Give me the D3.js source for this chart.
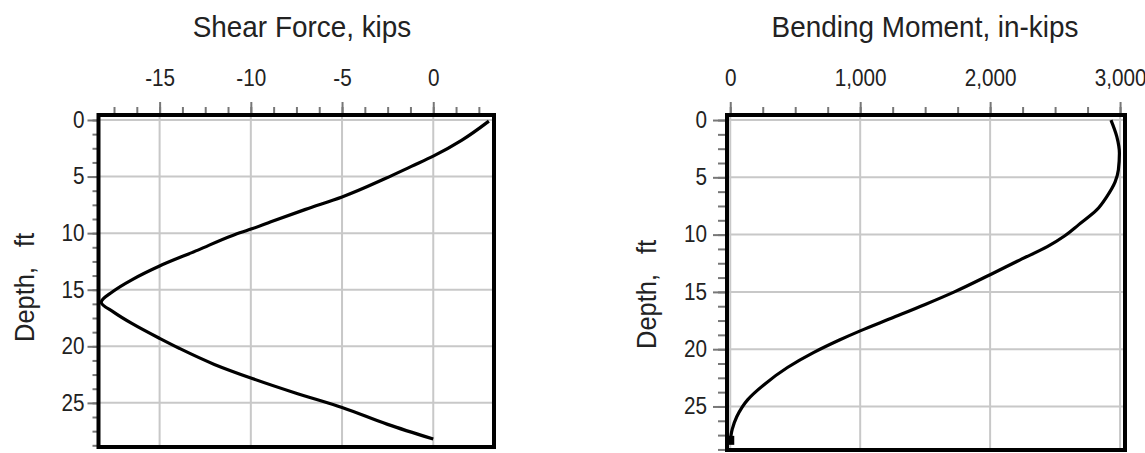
<!DOCTYPE html>
<html>
<head>
<meta charset="utf-8">
<script src="https://cdn.jsdelivr.net/npm/d3@7"></script>
<style>
  body { margin: 0; background: #fff; }
  text { font-family: "Liberation Sans Narrow", "Liberation Sans", Arial, sans-serif; fill: #222; }
</style>
</head>
<body>
<div id="viz"></div>
<script>
// shear force profile
var shearDepth = [0.1, 1.8, 3.2, 4.1, 5.15, 6.8, 7.9, 9.0, 9.6, 10.2, 11.5, 12.9, 14.1, 15.2, 16.1,
                  17.0, 18.0, 19.3, 20.2, 21.6, 22.8, 24.1, 25.4, 26.9, 28.2];
var shearKips = [3.05, 1.55, 0, -1.2, -2.6, -5, -7.0, -8.9, -9.9, -11.0, -12.9, -15, -16.5, -17.6, -18.2,
                 -17.5, -16.5, -15, -13.9, -12.0, -10, -7.6, -5, -2.5, 0];

// bending moment profile
var momentDepth = [0, 1.45, 2.9, 4.35, 5.4, 6.7, 7.85, 9.15, 10.1, 11.05, 12.2, 13.5, 15.0, 16.1,
                   17.3, 18.4, 19.2, 20.3, 21.6, 23.1, 24.4, 25.9, 27.0, 28.0];
var momentInKips = [2930, 2975, 2995, 2987, 2962, 2897, 2820, 2680, 2575, 2440, 2231, 2000, 1725, 1500,
                    1240, 1000, 840, 640, 440, 260, 135, 50, 15, 0];

// tick values
var shearTicks = [-15, -10, -5, 0];
var momentTicks = [0, 1000, 2000, 3000];
var depthTicks = [0, 5, 10, 15, 20, 25];

var svg = d3.select("#viz")
  .append("svg")
  .attr("width", 1145)
  .attr("height", 453);

// squeeze text horizontally around its own anchor point
function narrow(sel, k) {
  sel.each(function() {
    var t = d3.select(this);
    var ax = +t.attr("x") || 0;
    var old = t.attr("transform") || "";
    t.attr("transform", old + " translate(" + ax + ",0) scale(" + k + ",1) translate(" + (-ax) + ",0)");
  });
}

function drawPanel(p) {
  var x = d3.scaleLinear().domain(p.xDomain).range([p.left, p.right]);
  var y = d3.scaleLinear().domain(p.yDomain).range([p.top, p.bottom]);
  var g = svg.append("g");

  // minor ticks every quarter of a major step
  var q = p.xStep / 4;
  var xMinor = d3.range(Math.ceil(p.xDomain[0] / q), Math.floor(p.xDomain[1] / q) + 1).map(i => i * q);
  var yMinor = d3.range(0, p.yDomain[1], 1.25);

  // grid
  g.selectAll(".vgrid").data(p.xTicks).enter().append("line")
    .attr("x1", d => x(d)).attr("x2", d => x(d))
    .attr("y1", p.top).attr("y2", p.bottom)
    .attr("stroke", "#c8c8c8").attr("stroke-width", 2);
  g.selectAll(".hgrid").data(depthTicks).enter().append("line")
    .attr("x1", p.left).attr("x2", p.right)
    .attr("y1", d => y(d)).attr("y2", d => y(d))
    .attr("stroke", "#c8c8c8").attr("stroke-width", 2);

  // top axis
  var xMinorAxis = g.append("g").attr("transform", "translate(0," + p.top + ")")
    .call(d3.axisTop(x).tickValues(xMinor).tickSize(8).tickFormat(""));
  var xAxis = g.append("g").attr("transform", "translate(0," + p.top + ")")
    .call(d3.axisTop(x).tickValues(p.xTicks).tickSize(13).tickPadding(16).tickFormat(p.fmt));

  // left axis
  var yMinorAxis = g.append("g").attr("transform", "translate(" + p.left + ",0)")
    .call(d3.axisLeft(y).tickValues(yMinor).tickSize(p.minorLen).tickFormat(""));
  var yAxis = g.append("g").attr("transform", "translate(" + p.left + ",0)")
    .call(d3.axisLeft(y).tickValues(depthTicks).tickSize(p.majorLen).tickPadding(p.pad));

  [xMinorAxis, xAxis, yMinorAxis, yAxis].forEach(a => {
    a.select(".domain").remove();
    a.selectAll(".tick line").attr("stroke", "#777").attr("stroke-width", 2);
    a.selectAll("text").style("font-size", "23px").attr("fill", "#222");
  });
  narrow(xAxis.selectAll("text"), 0.9);
  narrow(yAxis.selectAll("text"), 0.9);

  // curve
  var pts = p.depth.map((d, i) => ({ depth: d, val: p.vals[i] }));
  g.append("path")
    .datum(pts)
    .attr("fill", "none")
    .attr("stroke", "#000")
    .attr("stroke-width", 3.2)
    .attr("stroke-linejoin", "round")
    .attr("d", d3.line().curve(d3.curveMonotoneY)
      .x(d => x(d.val)).y(d => y(d.depth)));

  if (p.endMarker) {
    var last = pts[pts.length - 1];
    g.append("rect")
      .attr("x", x(last.val) - 4).attr("y", y(last.depth) - 5)
      .attr("width", 8).attr("height", 9).attr("fill", "#000");
  }

  // frame
  g.append("rect")
    .attr("x", p.left).attr("y", p.top)
    .attr("width", p.right - p.left).attr("height", p.bottom - p.top)
    .attr("fill", "none").attr("stroke", "#000").attr("stroke-width", 4);

  // titles
  g.append("text")
    .attr("transform", "translate(" + p.titleX + ",37) scale(0.93,1)")
    .attr("text-anchor", "middle")
    .style("font-size", "30px")
    .text(p.title);

  var yt = g.append("text")
    .attr("transform", "translate(" + p.yTitleX + "," + p.yTitleY + ") rotate(-90) scale(0.91,1)")
    .attr("text-anchor", "start")
    .style("font-size", "28px");
  yt.append("tspan").text("Depth,");
  yt.append("tspan").attr("dx", 22).text("ft");
}

drawPanel({
  left: 98.5, right: 494, top: 115, bottom: 447,
  xDomain: [-18.35, 3.33], xStep: 5, yDomain: [-0.44, 28.9],
  xTicks: shearTicks, fmt: d => String(d),
  depth: shearDepth, vals: shearKips,
  majorLen: 11, minorLen: 6, pad: 3,
  title: "Shear Force, kips", titleX: 302,
  yTitleX: 34, yTitleY: 342
});

drawPanel({
  left: 727, right: 1125, top: 115, bottom: 450,
  xDomain: [-25, 3038], xStep: 1000, yDomain: [-0.44, 28.8],
  xTicks: momentTicks, fmt: d3.format(","),
  depth: momentDepth, vals: momentInKips,
  majorLen: 14, minorLen: 9, pad: 6,
  title: "Bending Moment, in-kips", titleX: 925,
  yTitleX: 656, yTitleY: 349,
  endMarker: true
});
</script>
</body>
</html>
